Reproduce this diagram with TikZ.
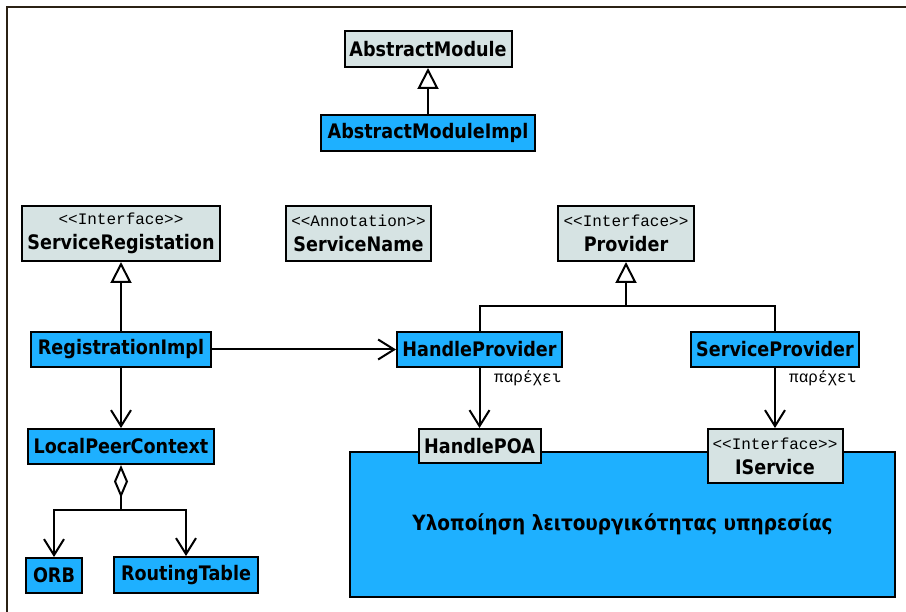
\documentclass[tikz,border=0pt]{standalone}
\usepackage{fontspec}
\usetikzlibrary{arrows.meta}
\newfontfamily\namefont[FakeStretch=0.88]{DejaVu Sans}
\newfontfamily\monofont[Ligatures=TeXOff]{Liberation Mono}
\definecolor{umlblue}{RGB}{30,176,255}
\definecolor{umlgray}{RGB}{214,227,227}
\definecolor{framebrown}{RGB}{43,33,20}
\newcommand{\stereo}[1]{{\monofont\mdseries\fontsize{16}{16}\selectfont #1}}
\tikzset{
  box/.style={draw=black, line width=2pt, inner sep=0pt, align=center,
    font=\namefont\bfseries\fontsize{20}{25}\selectfont},
  bluebox/.style={box, fill=umlblue},
  graybox/.style={box, fill=umlgray},
  conn/.style={line width=2pt, draw=black},
  gen/.style={conn, -{Triangle[length=21pt, width=21pt, fill=white, line width=2pt]}},
  dep/.style={conn, -{Straight Barb[length=16pt, width=20pt, line width=2pt]}},
  agg/.style={conn, {Diamond[length=33pt, width=14pt, fill=white, line width=2pt]}-},
  provides/.style={anchor=west, font=\monofont\mdseries\fontsize{16}{16}\selectfont, inner sep=0pt}
}
\begin{document}
\begin{tikzpicture}[x=1pt, y=-1pt]
  \useasboundingbox (0,0) rectangle (906,612);
  % frame
  \draw[framebrown, line width=2.5pt] (7,612) -- (7,7) -- (906,7);

  % module hierarchy
  \node[graybox, minimum width=167pt, minimum height=36pt] (am) at (428,49) {AbstractModule};
  \node[bluebox, minimum width=214pt, minimum height=36pt] (ami) at (428,133) {AbstractModuleImpl};

  % interfaces and annotation
  \node[graybox, minimum width=198pt, minimum height=55pt] (servreg) at (121,233.5)
    {\stereo{<<Interface>>}\\ServiceRegistation};
  \node[graybox, minimum width=145pt, minimum height=55pt] (servname) at (358.5,233.5)
    {\stereo{<<Annotation>>}\\ServiceName};
  \node[graybox, minimum width=136pt, minimum height=55pt] (provider) at (626,233.5)
    {\stereo{<<Interface>>}\\Provider};

  % implementations
  \node[bluebox, minimum width=180pt, minimum height=35pt] (regimpl) at (121,349.5) {RegistrationImpl};
  \node[bluebox, minimum width=165pt, minimum height=35pt] (hp) at (479.5,349.5) {HandleProvider};
  \node[bluebox, minimum width=168pt, minimum height=35pt] (sp) at (775,349.5) {ServiceProvider};
  \node[bluebox, minimum width=186pt, minimum height=35pt] (lpc) at (121,446.5) {LocalPeerContext};
  \node[bluebox, minimum width=56pt, minimum height=35pt] (orb) at (54,575.5) {ORB};
  \node[bluebox, minimum width=144pt, minimum height=36pt] (rt) at (186,575) {RoutingTable};

  % service implementation block with its exposed parts
  \node[bluebox, minimum width=545pt, minimum height=145pt,
        font=\namefont\bfseries\fontsize{21}{25}\selectfont] (impl) at (622.5,524.5)
    {\raisebox{-4pt}{Υλοποίηση λειτουργικότητας υπηρεσίας}};
  \node[graybox, minimum width=122pt, minimum height=34pt] (hpoa) at (479.5,446) {HandlePOA};
  \node[graybox, minimum width=135pt, minimum height=54pt] (iserv) at (775,456)
    {\stereo{<<Interface>>}\\IService};

  % connectors
  \draw[gen] (ami) -- (am);
  \draw[gen] (regimpl) -- (servreg);
  \draw[dep] (regimpl) -- (hp);
  \draw[dep] (regimpl) -- (lpc);

  \coordinate (pj) at (626,306);
  \draw[conn] (hp.north) |- (pj) -| (sp.north);
  \draw[gen] (pj) -- (provider.south);

  \draw[dep] (hp.south) -- (hpoa.north);
  \draw[dep] (sp.south) -- (iserv.north);
  \node[provides] (prov1) at (494,378) {παρέχει};
  \node[provides] (prov2) at (789,378) {παρέχει};

  \coordinate (aj) at (121,510);
  \draw[agg] (lpc.south) -- (aj);
  \draw[dep] (aj) -| (orb.north);
  \draw[dep] (aj) -| (rt.north);
\end{tikzpicture}
\end{document}
